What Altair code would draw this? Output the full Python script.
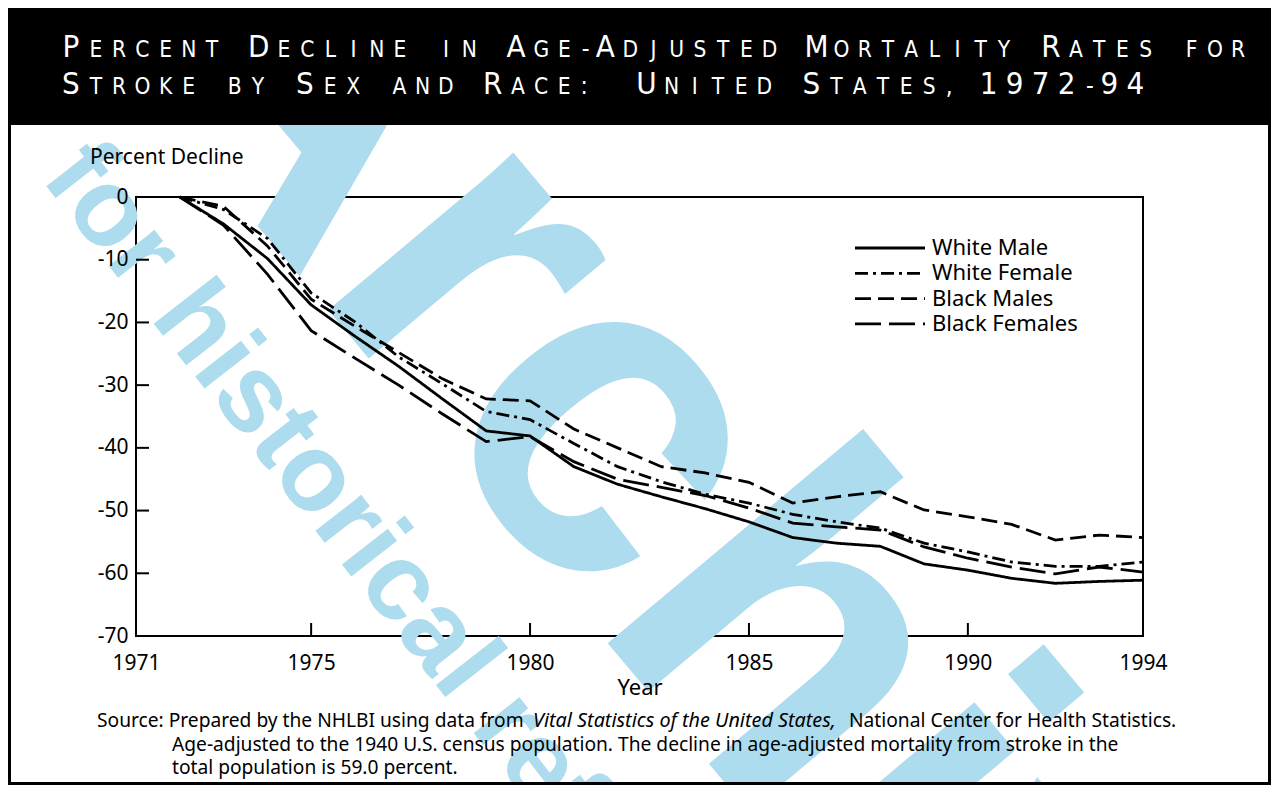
import altair as alt
import pandas as pd

# ---------------- data ----------------
years = list(range(1972, 1995))
series_names = ["White Male", "White Female", "Black Males", "Black Females"]
white_male = [0, -4.3, -9.8, -17.2, -22.2, -27.0, -32.2, -37.3, -38.1, -43.0, -45.8, -47.8,
              -49.7, -51.8, -54.3, -55.2, -55.7, -58.5, -59.5, -60.8, -61.6, -61.3, -61.1]
white_female = [0, -2.0, -6.6, -15.3, -19.9, -25.5, -29.8, -34.2, -35.5, -39.3, -43.0, -45.4,
                -47.4, -48.8, -50.6, -51.8, -52.8, -55.2, -56.6, -58.2, -58.9, -58.9, -58.2]
black_males = [0, -1.5, -7.8, -16.3, -20.6, -24.8, -29.0, -32.2, -32.5, -37.0, -40.0, -43.0,
               -44.0, -45.5, -48.8, -47.8, -47.0, -49.9, -51.0, -52.2, -54.7, -53.9, -54.3]
black_females = [0, -4.5, -12.3, -21.3, -25.7, -30.0, -34.6, -39.0, -38.2, -42.2, -45.0, -46.3,
                 -47.6, -49.6, -52.0, -52.6, -53.1, -55.8, -57.6, -59.0, -60.1, -59.0, -59.8]
y_ticks = [0, -10, -20, -30, -40, -50, -60, -70]
x_ticks = [1971, 1975, 1980, 1985, 1990, 1994]
title_line1 = "Percent Decline in Age-Adjusted Mortality Rates for"
title_line2 = "Stroke by Sex and Race:  United States, 1972-94"
small_words = {"in", "for", "by", "and"}
note_a = "Source: Prepared by the NHLBI using data from"
note_b = "Vital Statistics of the United States,"
note_c = "National Center for Health Statistics."
note_2 = "Age-adjusted to the 1940 U.S. census population.  The decline in age-adjusted mortality from stroke in the"
note_3 = "total population is 59.0 percent."

# ---------------- layout ----------------
W, H = 1007, 439
PL, PT, PR, PB = 128, 189, 128, 149
OX, OY = 136, 197  # page position of plot origin


def px(x):
    return x - OX


def py(y):
    return y - OY


FONT = "Noto Sans"
HFONT = "DejaVu Sans Condensed, Roboto, sans-serif"
BLUE = "#ADDCEE"

rows = []
for name, vals in zip(series_names, [white_male, white_female, black_males, black_females]):
    for yr, v in zip(years, vals):
        rows.append({"series": name, "year": yr, "value": v})
df = pd.DataFrame(rows)

dash_range = [[1, 0], [13, 5, 3, 5], [16, 7], [26, 8]]
xscale = alt.Scale(domain=[1971, 1994], nice=False, zero=False)
yscale = alt.Scale(domain=[-70, 0], nice=False, zero=False)
dash_scale = alt.Scale(domain=series_names, range=dash_range)

one = pd.DataFrame({"t": [""]})


# ---------------- watermark ----------------
def wm(text, x, y, size, angle):
    return alt.Chart(pd.DataFrame({"t": [text]})).mark_text(
        font="Liberation Sans", fontWeight="bold", fontSize=size, angle=angle,
        align="left", baseline="alphabetic", color=BLUE
    ).encode(text="t:N", x=alt.value(px(x)), y=alt.value(py(y)))


wm_big = wm("Archive", 94, 31, 460, 50)
wm_small = wm("for historical reference", 40, 178, 110, 52)

# ---------------- header ----------------
hdr_rect = alt.Chart(one).mark_rect(color="black").encode(
    x=alt.value(px(8)), x2=alt.value(px(1279)), y=alt.value(py(8)), y2=alt.value(py(125))
)


def layout_line(text):
    x = 0.0
    out = []
    for w in text.split(" "):
        small_word = w.lower() in small_words
        for ch in w:
            if ch == "-":
                adv, c, fs = 16, ch, 24
            elif ch in ":,":
                adv, c, fs = 12, ch, 24
            elif ch.isdigit():
                adv, c, fs = 25, ch, 31
            elif ch.isupper() and not small_word:
                adv, c, fs = 25, ch, 31
            else:
                adv, c, fs = 22.3, ch.upper(), 22.5
            out.append((x, adv, c, fs))
            x += adv
        x += 22
    return out


l1 = layout_line(title_line1)
l2 = layout_line(title_line2)
scale_f = (1245 - 63) / (l1[-1][0] + l1[-1][1] * 0.6)
hchars = []
for line, by in ((l1, 57), (l2, 94)):
    for (x, adv, ch, fs) in line:
        hchars.append({"c": ch, "hx": px(63 + (x + adv * 0.3) * scale_f), "hy": py(by), "fs": fs})
hdf = pd.DataFrame(hchars)
hdr_text = alt.Chart(hdf).mark_text(
    font=HFONT, color="white", align="center", baseline="alphabetic"
).encode(
    text="c:N",
    x=alt.X("hx:Q", scale=None, axis=None),
    y=alt.Y("hy:Q", scale=None, axis=None),
    size=alt.Size("fs:Q", scale=None, legend=None),
)

# ---------------- outer frame ----------------
frame = alt.Chart(one).mark_rect(fill=None, stroke="black", strokeWidth=3).encode(
    x=alt.value(px(9.5)), x2=alt.value(px(1269.5)), y=alt.value(py(9)), y2=alt.value(py(783.5))
)

# ---------------- data lines ----------------
lines = alt.Chart(df).mark_line(color="black", strokeWidth=2.8).encode(
    x=alt.X("year:Q", scale=xscale,
            axis=alt.Axis(values=x_ticks, format="d", ticks=False, domain=False, grid=False,
                          labelFontSize=21, labelFont=FONT, labelColor="black", labelPadding=16,
                          labelFlush=False, labelOverlap=False, title=None, zindex=2)),
    y=alt.Y("value:Q", scale=yscale,
            axis=alt.Axis(values=y_ticks, ticks=False, domain=False, grid=False,
                          labelExpr="'' + datum.value",
                          labelFontSize=21, labelFont=FONT, labelColor="black", labelPadding=8,
                          labelFlush=False, labelOverlap=False, title=None, zindex=2)),
    strokeDash=alt.StrokeDash("series:N", scale=dash_scale, legend=None),
    detail="series:N",
)

ytick = alt.Chart(pd.DataFrame({"v": y_ticks})).mark_rule(color="black", strokeWidth=2).encode(
    y=alt.Y("v:Q", scale=yscale, axis=None), x=alt.value(0), x2=alt.value(13)
)
xtick = alt.Chart(pd.DataFrame({"v": x_ticks})).mark_rule(color="black", strokeWidth=2).encode(
    x=alt.X("v:Q", scale=xscale, axis=None), y=alt.value(H), y2=alt.value(H - 13)
)

# ---------------- legend ----------------
leg_df = pd.DataFrame({"series": series_names,
                       "ly": [py(248) + i * 25.3 for i in range(len(series_names))]})
leg_rule = alt.Chart(leg_df).mark_rule(color="black", strokeWidth=2.8).encode(
    x=alt.value(px(855)), x2=alt.value(px(925)),
    y=alt.Y("ly:Q", scale=None, axis=None),
    strokeDash=alt.StrokeDash("series:N", scale=dash_scale, legend=None),
)
leg_text = alt.Chart(leg_df).mark_text(
    font=FONT, fontSize=22, align="left", baseline="middle", color="black"
).encode(text="series:N", x=alt.value(px(932)), y=alt.Y("ly:Q", scale=None, axis=None))


# ---------------- titles / notes ----------------
def txt(text, x, y, size, align="left", baseline="alphabetic", style="normal"):
    return alt.Chart(pd.DataFrame({"t": [text]})).mark_text(
        font=FONT, fontSize=size, align=align, baseline=baseline, color="black", fontStyle=style
    ).encode(text="t:N", x=alt.value(px(x)), y=alt.value(py(y)))


ytitle = txt("Percent Decline", 90, 158, 21, baseline="middle")
xtitle = txt("Year", 640, 688, 22, align="center", baseline="middle")
n1a = txt(note_a, 97, 727, 19.2)
n1b = txt(note_b, 533, 727, 19.8, style="italic")
n1c = txt(note_c, 849, 727, 19.2)
n2 = txt(note_2, 172, 751, 19.2)
n3 = txt(note_3, 172, 774, 19.2)

chart = alt.layer(
    wm_big, wm_small, hdr_rect, hdr_text, frame,
    lines, ytick, xtick, leg_rule, leg_text,
    ytitle, xtitle, n1a, n1b, n1c, n2, n3
).resolve_scale(
    x="independent", y="independent", strokeDash="independent", size="independent"
).properties(
    width=W, height=H,
    padding={"left": PL, "top": PT, "right": PR, "bottom": PB},
    autosize=alt.AutoSizeParams(type="none"),
    background="white",
).configure_view(stroke="black", strokeWidth=2)

chart.save("out.html", embed_options={"renderer": "svg", "actions": False})
